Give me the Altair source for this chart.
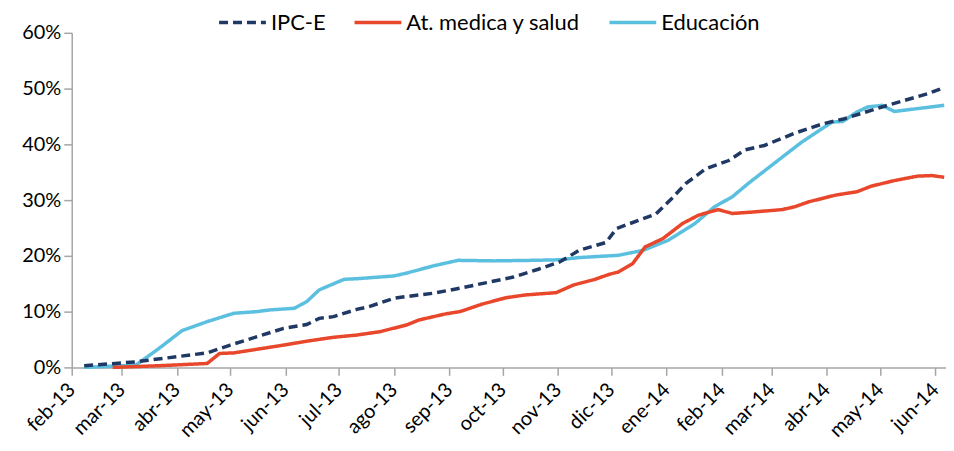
import altair as alt
import pandas as pd

series_names = ["IPC-E", "At. medica y salud", "Educación"]
series_colors = ["#1f3864", "#e8472b", "#5bbfe0"]

ipc_dates = ["2013-02-08", "2013-03-01", "2013-03-09", "2013-04-18", "2013-05-01", "2013-05-31",
             "2013-06-13", "2013-06-20", "2013-06-28", "2013-07-11", "2013-07-17", "2013-08-01",
             "2013-08-08", "2013-08-23", "2013-09-07", "2013-09-22", "2013-10-07", "2013-10-21",
             "2013-11-02", "2013-11-13", "2013-11-28", "2013-12-04", "2013-12-09", "2013-12-26",
             "2014-01-04", "2014-01-12", "2014-01-23", "2014-02-05", "2014-02-14", "2014-02-25",
             "2014-03-14", "2014-03-30", "2014-04-11", "2014-05-02", "2014-05-28", "2014-06-06"]
ipc_values = [0.3, 0.8, 1.0, 2.6, 4.0, 7.0,
              7.7, 8.8, 9.1, 10.4, 10.8, 12.4,
              12.7, 13.3, 14.2, 15.2, 16.2, 17.6,
              18.9, 21.0, 22.4, 24.9, 25.5, 27.5,
              30.3, 33.0, 35.6, 37.1, 39.0, 39.8,
              42.0, 43.7, 44.6, 46.7, 49.1, 50.2]

sal_dates = ["2013-02-24", "2013-03-22", "2013-04-18", "2013-04-25", "2013-05-03", "2013-05-31",
             "2013-06-13", "2013-06-28", "2013-07-11", "2013-07-24", "2013-08-08", "2013-08-15",
             "2013-08-30", "2013-09-07", "2013-09-20", "2013-10-03", "2013-10-14", "2013-10-31",
             "2013-11-10", "2013-11-21", "2013-11-30", "2013-12-05", "2013-12-13", "2013-12-20",
             "2013-12-30", "2014-01-10", "2014-01-19", "2014-01-30", "2014-02-07", "2014-02-20",
             "2014-03-07", "2014-03-14", "2014-03-22", "2014-04-06", "2014-04-18", "2014-04-26",
             "2014-05-09", "2014-05-22", "2014-05-30", "2014-06-06"]
sal_values = [0.0, 0.3, 0.7, 2.5, 2.6, 4.0,
              4.7, 5.4, 5.8, 6.4, 7.6, 8.5,
              9.6, 10.0, 11.4, 12.5, 13.0, 13.4,
              14.8, 15.7, 16.7, 17.1, 18.6, 21.6,
              23.1, 25.8, 27.3, 28.3, 27.6, 27.9,
              28.3, 28.8, 29.7, 30.9, 31.5, 32.5,
              33.5, 34.3, 34.4, 34.1]

edu_dates = ["2013-02-08", "2013-03-09", "2013-03-22", "2013-04-04", "2013-04-18", "2013-05-03",
             "2013-05-16", "2013-05-23", "2013-06-06", "2013-06-13", "2013-06-20", "2013-07-04",
             "2013-07-11", "2013-08-01", "2013-08-08", "2013-08-23", "2013-09-06", "2013-09-26",
             "2013-10-18", "2013-11-02", "2013-11-13", "2013-12-05", "2013-12-19", "2014-01-02",
             "2014-01-17", "2014-01-28", "2014-02-07", "2014-02-16", "2014-03-07", "2014-03-18",
             "2014-04-04", "2014-04-10", "2014-04-18", "2014-04-24", "2014-05-02", "2014-05-09",
             "2014-06-06"]
edu_values = [0.0, 0.4, 3.4, 6.6, 8.2, 9.7,
              10.0, 10.3, 10.6, 11.8, 13.9, 15.8,
              15.9, 16.4, 16.9, 18.2, 19.2, 19.1,
              19.2, 19.3, 19.7, 20.1, 21.0, 22.8,
              25.8, 28.8, 30.6, 33.0, 37.7, 40.4,
              44.0, 44.1, 45.8, 46.7, 47.0, 45.9,
              47.0]

tick_months = [(2013, m) for m in range(2, 13)] + [(2014, m) for m in range(1, 7)]
month_labels = ["ene", "feb", "mar", "abr", "may", "jun", "jul", "ago", "sep", "oct", "nov", "dic"]

rows = []
for name, dates, vals in [(series_names[2], edu_dates, edu_values),
                          (series_names[1], sal_dates, sal_values),
                          (series_names[0], ipc_dates, ipc_values)]:
    for d, v in zip(dates, vals):
        rows.append({"fecha": d + "T00:00:00", "valor": v / 100.0, "serie": name})
df = pd.DataFrame(rows)

FONT = "Lato"
label_expr = ("['" + "','".join(month_labels) + "'][month(datum.value)] + '-' + timeFormat(datum.value, '%y')")

legend_cfg = dict(
    title=None, orient="none", legendX=146, legendY=-36, direction="horizontal",
    symbolType="stroke", symbolSize=2209, symbolStrokeWidth=3.5,
    labelFont=FONT, labelFontSize=22, labelColor="#000000", labelOffset=3,
    columnPadding=22, labelLimit=400,
)

chart = alt.Chart(df).mark_line(strokeWidth=3.5).encode(
    x=alt.X("fecha:T",
            scale=alt.Scale(domain=[alt.DateTime(year=2013, month=2, date=1),
                                    alt.DateTime(year=2014, month=6, date=7)]),
            axis=alt.Axis(title=None,
                          values=[alt.DateTime(year=y, month=m, date=1) for y, m in tick_months],
                          labelExpr=label_expr, labelAngle=315, labelAlign="right",
                          labelBaseline="middle", labelFont=FONT, labelFontSize=20,
                          labelColor="#000000", labelPadding=11, grid=False,
                          domainColor="#a6a6a6", tickColor="#a6a6a6", tickSize=8,
                          domainWidth=1.5, tickWidth=1.5, labelOverlap=False)),
    y=alt.Y("valor:Q",
            scale=alt.Scale(domain=[0, 0.6], nice=False),
            axis=alt.Axis(title=None, values=[0, 0.1, 0.2, 0.3, 0.4, 0.5, 0.6], format=".0%",
                          labelFont=FONT, labelFontSize=20, labelColor="#000000",
                          labelPadding=3, grid=False, domainColor="#a6a6a6",
                          tickColor="#a6a6a6", tickSize=8, domainWidth=1.5, tickWidth=1.5)),
    color=alt.Color("serie:N", sort=series_names,
                    scale=alt.Scale(domain=series_names, range=series_colors),
                    legend=alt.Legend(**legend_cfg)),
    strokeDash=alt.StrokeDash("serie:N", sort=series_names,
                              scale=alt.Scale(domain=series_names, range=[[9, 5], [1, 0], [1, 0]]),
                              legend=alt.Legend(**legend_cfg)),
).properties(
    width=878, height=336,
    autosize=alt.AutoSizeParams(type="none"),
    padding={"left": 64, "top": 24, "right": 0, "bottom": 75},
).configure_view(stroke=None)

chart.save("out.html", embed_options={"renderer": "svg", "actions": False})
